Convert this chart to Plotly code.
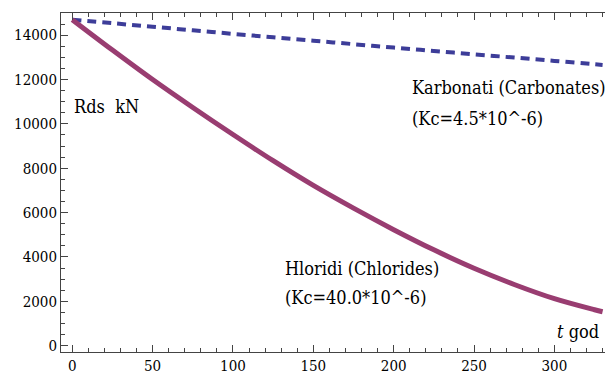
import plotly.graph_objects as go

# Bearing capacity Rds (kN) over time t (years)
t_years = [0, 25, 50, 75, 100, 125, 150, 175, 200, 225, 250, 275, 300, 325, 330]
rds_chlorides = [14700, 13330, 12000, 10740, 9520, 8340, 7225, 6200, 5230, 4320,
                 3490, 2760, 2120, 1620, 1530]
rds_carbonates = [14700, 14540, 14380, 14220, 14060, 13905, 13750, 13595, 13440,
                  13290, 13140, 12990, 12840, 12690, 12660]

x_ticks = [0, 50, 100, 150, 200, 250, 300]
y_ticks = [0, 2000, 4000, 6000, 8000, 10000, 12000, 14000]

serif = "DejaVu Serif Condensed, DejaVu Serif"

fig = go.Figure()
fig.add_trace(go.Scatter(
    x=t_years, y=rds_carbonates, mode="lines", line_shape="spline",
    line=dict(color="#3d3d99", width=4, dash="9px,6px"),
    showlegend=False,
))
fig.add_trace(go.Scatter(
    x=t_years, y=rds_chlorides, mode="lines", line_shape="spline",
    line=dict(color="#993d71", width=5),
    showlegend=False,
))

label_font = dict(family=serif, size=18, color="black")
annotations = [
    dict(x=210.1, y=11630, text="Karbonati (Carbonates)"),
    dict(x=210.1, y=10245, text="(Kc=4.5*10^-6)"),
    dict(x=131.3, y=3480, text="Hloridi (Chlorides)"),
    dict(x=131.3, y=2170, text="(Kc=40.0*10^-6)"),
    dict(x=-0.2, y=10770, text="Rds  kN"),
    dict(x=300.4, y=620, text="<i>t</i> god"),
]
for a in annotations:
    a.update(xref="x", yref="y", xanchor="left", yanchor="middle",
             showarrow=False, font=label_font)

axis_common = dict(
    showgrid=False, zeroline=False, showline=True, linecolor="#444444",
    linewidth=1, ticks="inside", tickcolor="#444444",
    tickwidth=1, ticklen=7, automargin=False,
    tickfont=dict(family=serif, size=15, color="black"),
)

fig.update_layout(
    width=605, height=373,
    margin=dict(l=61, r=0, t=13, b=21),
    paper_bgcolor="white", plot_bgcolor="white",
    font=dict(family=serif),
    annotations=annotations,
    xaxis=dict(range=[-7.0, 331.5], tickvals=x_ticks, mirror="allticks",
               ticklabelstandoff=0,
               minor=dict(dtick=10, ticklen=4, ticks="inside", tickcolor="#444444"),
               **axis_common),
    yaxis=dict(range=[-285, 15000], tickvals=y_ticks, tickformat="d", mirror=False,
               minor=dict(dtick=500, ticklen=4, ticks="inside", tickcolor="#444444"),
               **axis_common),
)

fig.write_html("out.html")
